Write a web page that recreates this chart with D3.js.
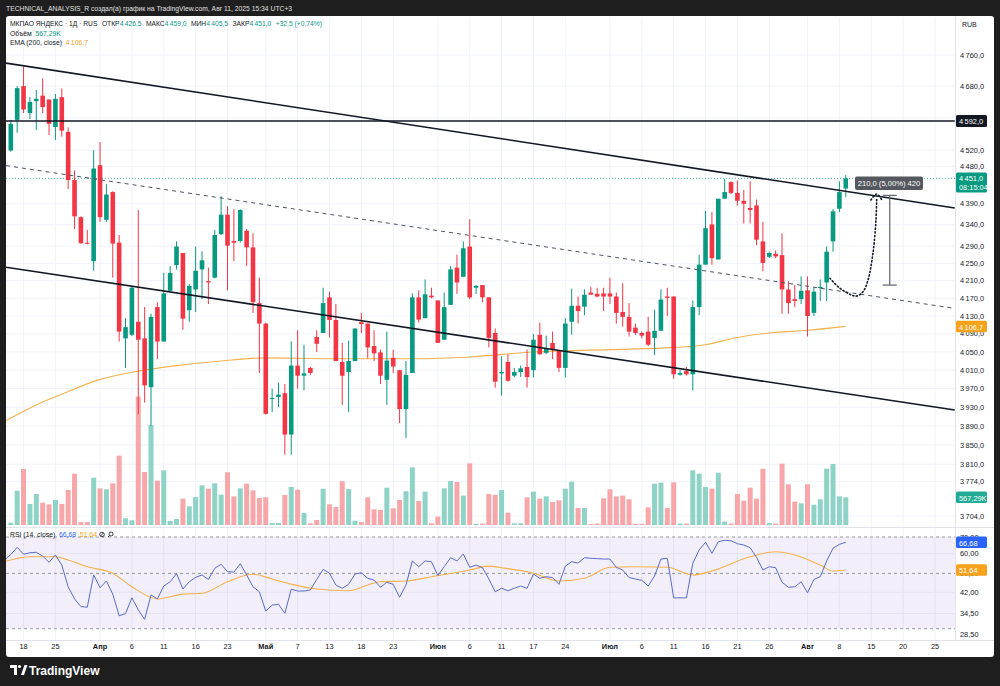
<!DOCTYPE html>
<html><head><meta charset="utf-8">
<script src="https://cdn.jsdelivr.net/npm/d3@7"></script>
<style>body{margin:0;background:#1e1e1e;}svg{display:block;font-family:"Liberation Sans",Arial,sans-serif;}</style>
</head><body><svg id="c" width="1000" height="686"></svg>
<script>
// ---------- DATA ----------
const opens=[4519,4595,4680,4612,4642,4656,4646,4577,4652,4565,
4447,4358,4298,4255,4483,4352,4418,4298,4080,4088,
4117,4080,3973,4150,4073,4187,4246,4274,4143,4190,
4236,4209,4217,4318,4364,4302,4302,4326,4287,4159,
4113,3948,3952,3960,3872,4020,3998,4015,4083,4092,
4172,4121,4028,4006,4030,4116,4113,4063,4049,3989,
4037,4010,3926,4004,4172,4125,4176,4165,4077,4155,
4240,4219,4289,4194,4200,4172,4092,4003,4028,3998,
4006,4017,4010,4088,4048,4070,4053,4015,4117,4153,
4151,4183,4180,4181,4181,4174,4139,4128,4104,4092,
4095,4081,4097,4174,4174,4000,4008,4001,4150,4247,
4341,4259,4402,4442,4416,4397,4380,4386,4301,4265,
4272,4269,4190,4168,4168,4188,4137,4193,4206,4301,
4378,4426.5];
const highs=[4595,4680,4730,4652,4670,4700,4646,4660,4674,4576,
4470,4360,4328,4520,4540,4437,4420,4316,4125,4196,
4375,4150,4135,4161,4228,4244,4301,4274,4202,4289,
4278,4240,4328,4408,4384,4377,4377,4330,4320,4217,
4115,3970,3983,3980,4073,4098,4066,4017,4098,4194,
4185,4157,4070,4075,4102,4137,4113,4098,4055,4095,
4055,4010,4030,4181,4188,4213,4194,4165,4183,4244,
4270,4301,4353,4200,4200,4172,4102,4040,4045,4015,
4020,4055,4090,4115,4086,4095,4053,4125,4192,4174,
4190,4196,4194,4194,4217,4183,4204,4159,4113,4095,
4128,4144,4190,4194,4174,4010,4017,4165,4270,4373,
4370,4402,4450,4444,4446,4423,4444,4400,4347,4277,
4280,4320,4209,4200,4220,4220,4194,4213,4289,4378,
4444,4459];
const lows=[4516,4563,4612,4597,4570,4612,4557,4545,4553,4425,
4330,4295,4294,4233,4347,4347,4217,4073,4015,4085,
3915,3940,3890,4034,4073,4185,4236,4099,4117,4139,
4168,4157,4215,4316,4188,4255,4298,4244,4137,4004,
3914,3920,3930,3830,3830,3970,3966,4000,4050,4092,
4082,4030,3935,3920,4030,4092,4036,4030,3980,3935,
4004,3896,3865,4004,4115,4125,4170,4070,4077,4155,
4180,4219,4168,4180,4161,4060,3972,3955,3985,3995,
3995,3972,3994,4043,4045,4034,4006,3994,4088,4113,
4132,4178,4172,4141,4157,4113,4106,4084,4088,4080,
4063,4043,4097,4130,3991,3998,3998,3966,4132,4247,
4247,4259,4402,4413,4386,4343,4343,4292,4232,4262,
4262,4135,4135,4150,4157,4084,4130,4164,4164,4277,
4370,4405.5];
const closes=[4585,4675,4621,4640,4648,4627,4585,4648,4568,4447,
4360,4297,4296,4475,4358,4412,4296,4095,4105,4194,
4077,3977,4128,4073,4181,4228,4289,4124,4198,4233,
4257,4206,4316,4364,4291,4298,4375,4287,4161,4113,
3916,3950,3957,3872,4020,3998,4003,4004,4068,4159,
4121,4030,3998,4030,4102,4112,4060,4047,3998,4031,
4018,3926,4000,4172,4122,4179,4172,4070,4150,4236,
4206,4285,4172,4198,4172,4081,3985,4006,3987,4006,
4014,3995,4077,4045,4058,4055,4015,4113,4153,4141,
4178,4178,4174,4174,4174,4137,4128,4095,4092,4086,
4066,4097,4167,4171,4001,4004,4001,4150,4247,4332,
4262,4402,4418,4416,4397,4390,4375,4305,4251,4274,
4266,4190,4159,4164,4187,4130,4185,4196,4277,4372,
4418,4451];
// volume in thousands
const volumes=[47,702,1147,430,635,457,424,512,430,717,
1051,60,60,969,751,731,853,1420,137,96,
2628,1085,2048,908,1120,82,123,539,382,573,
812,744,853,621,1079,587,751,846,710,553,
567,40,40,614,778,723,246,35,102,744,
424,369,895,737,88,60,567,321,307,764,
342,512,690,1181,492,683,35,171,751,901,
881,601,1263,25,30,635,614,717,252,35,
35,567,683,539,587,471,505,744,887,348,
348,20,30,546,731,587,601,526,25,25,
362,846,867,348,874,30,30,1120,1051,778,
744,1071,70,30,635,498,764,539,1153,40,
30,1256,833,478,444,833,416,526,1153,1249,
587,567.29];
// RSI(14) from bar -1
const rsiStart=-1;
const rsiValues=[56.6,59.6,
63.6,59.7,60.5,60.8,58.7,55.4,59.3,54.0,44.2,
39.5,36.8,36.6,49.3,43.8,46.6,41.3,33.8,34.5,39.9,
35.7,32.7,41.0,39.5,44.5,46.3,49.9,43.3,46.3,48.2,
49.3,47.3,52.4,54.4,50.8,50.6,54.7,49.3,44.2,42.2,
35.3,37.3,37.6,34.6,43.2,42.5,42.5,42.9,47.3,51.9,
50.1,44.9,43.6,45.2,49.7,50.3,47.8,47.0,44.0,46.1,
45.2,40.1,44.9,56.1,53.2,56.1,55.7,49.0,53.2,57.8,
56.1,59.8,52.9,54.0,52.7,47.5,42.2,43.6,42.6,43.6,
44.5,43.6,49.7,47.8,48.5,48.1,45.2,53.5,55.7,55.0,
57.8,57.5,57.3,57.1,57.1,52.9,51.6,48.1,47.5,46.9,
44.5,48.8,57.1,57.5,39.9,39.9,39.9,54.9,62.1,66.7,
60.2,67.0,67.9,67.6,65.8,65.0,63.4,58.0,51.6,53.2,
52.7,46.1,44.0,44.2,46.3,41.8,47.3,48.5,56.1,63.1,
65.4,66.68];
const rsiMaIdx=[-1,3,7,9,12,16,19,23,27,30,34,38,41,44,48,53,56,58,62,66,72,75,77,82,86,90,94,98,103,107,110,116,120,123,127,129,131];
const rsiMaVal=[55.7,58.3,58.3,56.6,53.2,50.1,44.2,39.5,41.3,41.6,46.3,49.6,47.5,45.3,43.3,42.6,44.9,46.3,46.6,48.5,51.6,53.5,52.7,50.1,46.6,47.8,52.9,53.2,52.9,49.3,51.1,58.3,61.1,59.3,54.0,51.1,51.64];
const emaIdx=[-1,0,4,8,14,20,26,33,40,50,64,72,82,94,104,109,114,119,125,131];
const emaVal=[3900,3907,3935,3958,3990,4008,4020,4030,4037,4035,4035,4039,4050,4055,4060,4066,4082,4092,4098,4106.7];
const xTickIdx=[2,7,14,19,24,29,34,40,45,50,55,60,67,72,77,82,87,94,99,104,109,114,119,125,130,135,140,145];
const xTickLabels=["18","25","Апр","6","11","16","23","Май","7","13","18","23","Июн","6","11","17","24","Июл","6","11","16","21","26","Авг","8","15","20","25"];
const monthLabels=["Апр","Май","Июн","Июл","Авг"];
const priceTicks=[4760,4680,4600,4520,4480,4390,4340,4290,4250,4210,4170,4130,4090,4050,4010,3970,3930,3890,3850,3810,3774,3704];
const rsiTicks=[70,60,50,42,34.5,28.5];
// drawings
const lineIdx=[-0.75,148.1];
const upperLine=[4739,4380];
const lowerLine=[4241,3924];
const midLine=[4482,4147];
const levelPrice=4592;
const arrowIdx=[128.52,130.09,131.93,132.71,133.7,134.49,135.27,135.74,135.85];
const arrowPrice=[4215.5,4192.6,4177.3,4175,4184.8,4211.5,4273.9,4351.3,4403.7];
const arrowHeadIdx=[134.95,135.85,136.67];
const arrowHeadPrice=[4398.9,4413.3,4398.9];
const rulerIdx=137.9, rulerLow=4200, rulerHigh=4410;
const rulerText="210,0 (5,00%) 420";
const lastPrice=4451, emaLast=4106.7, volLast=567.29, rsiLast=66.68, rsiMaLast=51.64;

// ---------- SCALES ----------
const svg=d3.select('#c');
const PL=6, PR=955, MT=17, MB=527, RT=528, RB=640;
const x=d3.scaleLinear().domain([0,145]).range([10.8,935]);
const y=d3.scaleLog().domain([4760,3704]).range([55,516.1]);
const yv=d3.scaleLinear().domain([0,1000]).range([525,525-48.83]);
const yr=d3.scaleLog().domain([70,30]).range([537,628.7]);
const GREEN='#089981', RED='#f23645', DARK='#131722', ORANGE='#f7a21b';
function fmt(v,dec){let s=v.toFixed(dec);let p=s.split('.');let i=p[0];if(i.length>3)i=i.slice(0,i.length-3)+'\u2009'+i.slice(-3);return p.length>1?i+','+p[1]:i;}

svg.append('rect').attr('width',1000).attr('height',686).attr('fill','#1e1e1e');
svg.append('rect').attr('x',6).attr('y',16).attr('width',988).attr('height',641).attr('rx',3).attr('fill','#ffffff');

const defs=svg.append('defs');
defs.append('clipPath').attr('id','cm').append('rect').attr('x',PL).attr('y',MT).attr('width',PR-PL).attr('height',MB-MT);
defs.append('clipPath').attr('id','cr').append('rect').attr('x',PL).attr('y',RT).attr('width',PR-PL).attr('height',RB-RT);

// grids
const grid=svg.append('g');
xTickIdx.forEach(i=>{grid.append('line').attr('x1',x(i)).attr('x2',x(i)).attr('y1',MT).attr('y2',RB).attr('stroke','#f0f3fa').attr('stroke-width',1);});
priceTicks.forEach(p=>{grid.append('line').attr('x1',PL).attr('x2',PR).attr('y1',y(p)).attr('y2',y(p)).attr('stroke','#f0f3fa');});
svg.append('line').attr('x1',PL).attr('x2',994).attr('y1',MB+0.5).attr('y2',MB+0.5).attr('stroke','#e0e3eb');
svg.append('line').attr('x1',PL).attr('x2',994).attr('y1',RB+0.5).attr('y2',RB+0.5).attr('stroke','#e0e3eb');
svg.append('line').attr('x1',PR+0.5).attr('x2',PR+0.5).attr('y1',MT).attr('y2',RB).attr('stroke','#e0e3eb');

// ---------- MAIN PANE ----------
const main=svg.append('g').attr('clip-path','url(#cm)');
const idx=d3.range(opens.length);
main.selectAll('rect.vol').data(idx).join('rect').attr('class','vol')
 .attr('x',i=>x(i)-2.5).attr('width',5)
 .attr('y',i=>yv(volumes[i])).attr('height',i=>yv(0)-yv(volumes[i]))
 .attr('fill',i=>closes[i]>=opens[i]?'#8fd3c7':'#f7a7a9');
main.append('path').datum(emaIdx.map((d,k)=>[d,emaVal[k]]))
 .attr('d',d3.line().x(d=>x(d[0])).y(d=>y(d[1])).curve(d3.curveMonotoneX))
 .attr('fill','none').attr('stroke','#f5b14c').attr('stroke-width',1.1);
main.append('line').attr('x1',PL).attr('x2',PR).attr('y1',y(lastPrice)).attr('y2',y(lastPrice))
 .attr('stroke',GREEN).attr('stroke-width',1).attr('stroke-dasharray','1,2').attr('opacity',0.7);
const cg=main.append('g');
cg.selectAll('line.w').data(idx).join('line').attr('class','w')
 .attr('x1',i=>x(i)).attr('x2',i=>x(i)).attr('y1',i=>y(highs[i])).attr('y2',i=>y(lows[i]))
 .attr('stroke',i=>closes[i]>=opens[i]?GREEN:RED).attr('stroke-width',1);
cg.selectAll('rect.b').data(idx).join('rect').attr('class','b')
 .attr('x',i=>x(i)-2.3).attr('width',4.6)
 .attr('y',i=>y(Math.max(opens[i],closes[i])))
 .attr('height',i=>Math.max(1,y(Math.min(opens[i],closes[i]))-y(Math.max(opens[i],closes[i]))))
 .attr('fill',i=>closes[i]>=opens[i]?GREEN:RED);
const dl=main.append('g');
function tl(vals,opt){const l=dl.append('line').attr('x1',x(lineIdx[0])).attr('x2',x(lineIdx[1])).attr('y1',y(vals[0])).attr('y2',y(vals[1])).attr('stroke',opt.c).attr('stroke-width',opt.w);if(opt.dash)l.attr('stroke-dasharray',opt.dash);}
tl(upperLine,{c:DARK,w:1.6});
tl(lowerLine,{c:DARK,w:1.6});
tl(midLine,{c:'#50535e',w:1,dash:'4,4'});
tl([levelPrice,levelPrice],{c:DARK,w:1.6});
dl.append('path').datum(arrowIdx.map((d,k)=>[d,arrowPrice[k]]))
 .attr('d',d3.line().x(d=>x(d[0])).y(d=>y(d[1])).curve(d3.curveCatmullRom))
 .attr('fill','none').attr('stroke',DARK).attr('stroke-width',1.6).attr('stroke-dasharray','1.2,2.4').attr('stroke-linecap','round');
dl.append('path').datum(arrowHeadIdx.map((d,k)=>[d,arrowHeadPrice[k]]))
 .attr('d',d3.line().x(d=>x(d[0])).y(d=>y(d[1])).curve(d3.curveCatmullRom))
 .attr('fill','none').attr('stroke',DARK).attr('stroke-width',1.6).attr('stroke-dasharray','1.2,2.4').attr('stroke-linecap','round');
const rx=x(rulerIdx);
dl.append('line').attr('x1',rx).attr('x2',rx).attr('y1',y(rulerHigh)).attr('y2',y(rulerLow)).attr('stroke','#6a6d78').attr('stroke-width',1.3);
[rulerHigh,rulerLow].forEach(p=>dl.append('line').attr('x1',rx-7).attr('x2',rx+7).attr('y1',y(p)).attr('y2',y(p)).attr('stroke','#6a6d78').attr('stroke-width',1.3));
dl.append('rect').attr('x',855).attr('y',176.5).attr('width',68).attr('height',13.5).attr('rx',2).attr('fill','#55585f');
dl.append('text').attr('x',889).attr('y',186.3).attr('text-anchor','middle').attr('font-size',7.6).attr('fill','#fff').text(rulerText);

// ---------- RSI PANE ----------
const rp=svg.append('g').attr('clip-path','url(#cr)');
rp.append('rect').attr('x',PL).attr('width',PR-PL).attr('y',yr(70)).attr('height',yr(30)-yr(70)).attr('fill','#f2effa');
[60,42,34.5].forEach(v=>rp.append('line').attr('x1',PL).attr('x2',PR).attr('y1',yr(v)).attr('y2',yr(v)).attr('stroke','#e6e3f2'));
xTickIdx.forEach(i=>rp.append('line').attr('x1',x(i)).attr('x2',x(i)).attr('y1',yr(70)).attr('y2',yr(30)).attr('stroke','#e6e3f2'));
[70,50,30].forEach(v=>rp.append('line').attr('x1',PL).attr('x2',PR).attr('y1',yr(v)).attr('y2',yr(v)).attr('stroke','#9598a1').attr('stroke-dasharray','3,3'));
rp.append('path').datum(rsiMaIdx.map((d,k)=>[d,rsiMaVal[k]]))
 .attr('d',d3.line().x(d=>x(d[0])).y(d=>yr(d[1])).curve(d3.curveMonotoneX))
 .attr('fill','none').attr('stroke','#f5b14c').attr('stroke-width',1.1);
rp.append('path').datum(rsiValues.map((v,k)=>[k+rsiStart,v]))
 .attr('d',d3.line().x(d=>x(d[0])).y(d=>yr(d[1])))
 .attr('fill','none').attr('stroke','#5c6bc8').attr('stroke-width',1);

// ---------- AXES ----------
const ax=svg.append('g').attr('font-size',7.4).attr('fill',DARK);
priceTicks.forEach(p=>ax.append('text').attr('x',960).attr('y',y(p)+2.6).text(fmt(p,1)));
rsiTicks.forEach(v=>ax.append('text').attr('x',960).attr('y',yr(v)+2.6).text(fmt(v,2)));
ax.append('text').attr('x',962).attr('y',26.5).attr('font-size',7).text('RUB');
xTickIdx.forEach((i,k)=>{const t=xTickLabels[k];ax.append('text').attr('x',x(i)).attr('y',649).attr('text-anchor','middle').attr('font-weight',monthLabels.includes(t)?'bold':'normal').text(t);});
function box(yc,h,fill,lines,tc){svg.append('rect').attr('x',956).attr('y',yc-h/2).attr('width',31).attr('height',h).attr('rx',1.5).attr('fill',fill);
 lines.forEach((s,k)=>svg.append('text').attr('x',959).attr('y',yc-h/2+9+k*8.5).attr('font-size',7.4).attr('fill',tc||'#fff').text(s));}
box(y(levelPrice),12,DARK,[fmt(levelPrice,1)]);
box(y(lastPrice)+4,20,GREEN,[fmt(lastPrice,1),'08:15:04']);
box(y(emaLast),11.5,ORANGE,[fmt(emaLast,1)]);
box(yv(volLast),11.5,'#22ab94',[fmt(volLast,2)+'K']);
box(yr(rsiLast),11.5,'#2962ff',[fmt(rsiLast,2)]);
box(yr(rsiMaLast),11.5,ORANGE,[fmt(rsiMaLast,2)]);

// ---------- LEGENDS (sequential texts, scaled to width) ----------
function seqLine(x0,yy,parts,target,fs,color){
  const g=svg.append('g');
  let cx=0;
  parts.forEach(p=>{
    if(p[0]==='gap'){cx+=p[1];return;}
    const t=g.append('text').attr('x',cx).attr('y',0).attr('font-size',fs).attr('fill',p[1]||color).text(p[0]);
    cx+=t.node().getComputedTextLength();
  });
  const sx=target?target/cx:1;
  g.attr('transform',`translate(${x0},${yy}) scale(${sx},1)`);
  return x0+cx*sx;
}
seqLine(10,26,[['МКПАО ЯНДЕКС · 1Д · RUS'],['gap',5],['ОТКР'],[fmt(opens[131],1),GREEN],['gap',5],['МАКС'],[fmt(highs[131],1),GREEN],['gap',5],['МИН'],[fmt(lows[131],1),GREEN],['gap',5],['ЗАКР'],[fmt(closes[131],1),GREEN],['gap',5],['+32,5 (+0,74%)',GREEN]],312,7.6,DARK);
seqLine(10,35.5,[['Объём'],['gap',4],[fmt(volLast,2)+'K',GREEN]],51,7.6,DARK);
seqLine(10,45,[['EMA (200, close)'],['gap',4],[fmt(emaLast,1),ORANGE]],78,7.6,DARK);
const rEnd=seqLine(10,537,[['RSI (14, close)'],['gap',4],[fmt(rsiLast,2),'#2962ff'],['gap',4],[fmt(rsiMaLast,2),ORANGE]],87,7.6,DARK);
const ic=svg.append('g').attr('stroke',DARK).attr('stroke-width',0.8).attr('fill','none');
ic.append('circle').attr('cx',rEnd+5).attr('cy',534.5).attr('r',2.3);
ic.append('line').attr('x1',rEnd+3.5).attr('x2',rEnd+6.5).attr('y1',536).attr('y2',533);
ic.append('circle').attr('cx',rEnd+14).attr('cy',534).attr('r',2);
ic.append('line').attr('x1',rEnd+12.6).attr('x2',rEnd+11).attr('y1',535.4).attr('y2',537);

// title
seqLine(6,10.5,[['TECHNICAL_ANALYSIS_R создал(а) график на TradingView.com, Авг 11, 2025 15:34 UTC+3','#e0e0e0']],286,7.6,'#e0e0e0');
// logo
const lgo=svg.append('g').attr('fill','#ffffff');
lgo.append('path').attr('d','M10,665 H17 V675 H14 V668 H10 Z');
lgo.append('circle').attr('cx',19.5).attr('cy',666.5).attr('r',1.6);
lgo.append('path').attr('d','M21,675 L24.5,665 H27.5 L24,675 Z');
svg.append('text').attr('x',29).attr('y',674.5).attr('font-size',12).attr('font-weight','bold').attr('fill','#fff').text('TradingView');
</script></body></html>
